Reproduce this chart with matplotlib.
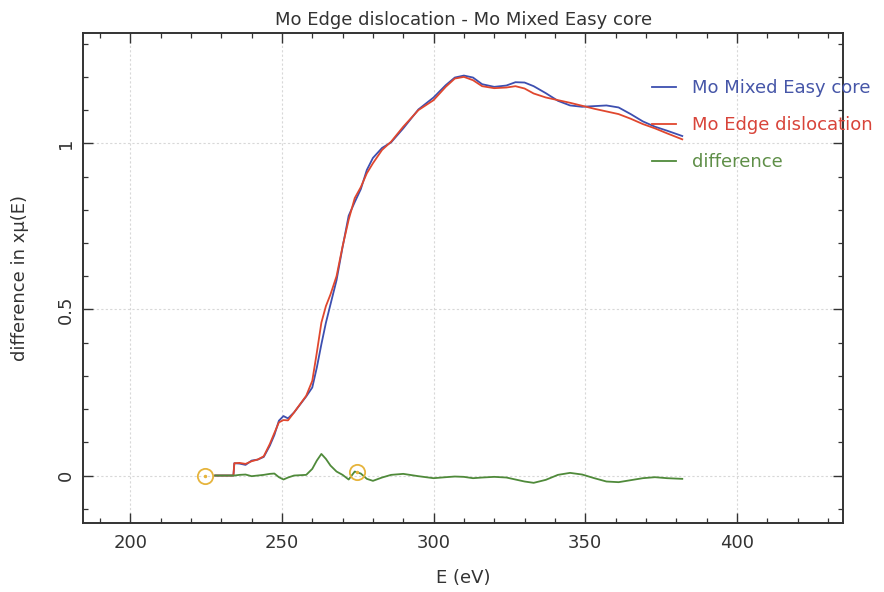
import matplotlib
matplotlib.use("Agg")
import matplotlib.pyplot as plt
from matplotlib.ticker import MultipleLocator

# Energy grid (eV)
energy = [228, 232, 234, 234.3, 236, 238, 240, 242, 244, 246, 247.5, 249, 250.5,
          252, 254, 256, 258, 260, 261.5, 263, 264.5, 266, 268, 270, 272, 274,
          276, 278, 280, 283, 286, 290, 295, 300, 304, 307, 310, 313, 316, 320,
          324, 327, 330, 333, 337, 341, 345, 349, 353, 357, 361, 365, 369, 373,
          377, 382]

# Mo Mixed Easy core, x*mu(E)
mixed_easy = [0, 0, 0, 0.037, 0.036, 0.032, 0.045, 0.048, 0.056, 0.090, 0.122,
              0.165, 0.179, 0.172, 0.190, 0.214, 0.238, 0.265, 0.325, 0.395,
              0.460, 0.515, 0.588, 0.688, 0.782, 0.823, 0.862, 0.920, 0.956,
              0.986, 1.003, 1.045, 1.102, 1.138, 1.175, 1.198, 1.204, 1.198,
              1.178, 1.170, 1.174, 1.184, 1.183, 1.172, 1.151, 1.128, 1.114,
              1.110, 1.112, 1.114, 1.108, 1.088, 1.066, 1.050, 1.038, 1.022]

# Mo Edge dislocation, x*mu(E)
edge_disl = [0, 0, 0, 0.037, 0.038, 0.035, 0.043, 0.048, 0.058, 0.095, 0.128,
             0.160, 0.167, 0.166, 0.190, 0.215, 0.240, 0.285, 0.370, 0.460,
             0.510, 0.545, 0.600, 0.690, 0.770, 0.835, 0.868, 0.910, 0.940,
             0.980, 1.005, 1.050, 1.100, 1.130, 1.170, 1.195, 1.200, 1.190,
             1.172, 1.166, 1.168, 1.172, 1.165, 1.150, 1.138, 1.130, 1.122,
             1.113, 1.104, 1.096, 1.088, 1.074, 1.058, 1.045, 1.030, 1.012]

# Edge - Mixed
difference = [0, 0, 0, 0, 0.002, 0.003, -0.002, 0, 0.002, 0.005, 0.006, -0.005,
              -0.012, -0.006, 0, 0.001, 0.002, 0.020, 0.045, 0.065, 0.050,
              0.030, 0.012, 0.002, -0.012, 0.012, 0.006, -0.010, -0.016, -0.006,
              0.002, 0.005, -0.002, -0.008, -0.005, -0.003, -0.004, -0.008,
              -0.006, -0.004, -0.006, -0.012, -0.018, -0.022, -0.013, 0.002,
              0.008, 0.003, -0.008, -0.018, -0.020, -0.014, -0.008, -0.005,
              -0.008, -0.010]

# Marked points
marker_energy = [224.5, 274.8]
marker_value = [0.0, 0.01]

series_labels = ["Mo Mixed Easy core", "Mo Edge dislocation", "difference"]
series_colors = ["#3d4fb0", "#e0472e", "#4f8a3a"]
label_colors = ["#4656a8", "#d8443a", "#5f8f48"]

title_text = "Mo Edge dislocation - Mo Mixed Easy core"
xlabel_text = "E (eV)"
ylabel_text = "difference in xμ(E)"

plt.rcParams["font.family"] = ["DejaVu Sans"]
fig = plt.figure(figsize=(8.84, 5.92), dpi=100)
W, H = 884, 592
left, right, top, bottom = 83.3, 843, 32.7, 522.7
ax = fig.add_axes([left / W, 1 - bottom / H, (right - left) / W, (bottom - top) / H])

ax.plot(energy, mixed_easy, color=series_colors[0], lw=1.3, label=series_labels[0])
ax.plot(energy, edge_disl, color=series_colors[1], lw=1.3, label=series_labels[1])
ax.plot(energy, difference, color=series_colors[2], lw=1.3, label=series_labels[2])

ax.plot(marker_energy, marker_value, 'o', ms=11, mfc='none', mec="#e6b43c", mew=1.3)
ax.plot(marker_energy, marker_value, '.', ms=3, color="#e6b43c")

ax.set_xlim(184.5, 435)
ax.set_ylim(-0.142, 1.333)

ax.xaxis.set_major_locator(MultipleLocator(50))
ax.xaxis.set_minor_locator(MultipleLocator(10))
ax.yaxis.set_major_locator(MultipleLocator(0.5))
ax.yaxis.set_minor_locator(MultipleLocator(0.1))
ax.yaxis.set_major_formatter(plt.FuncFormatter(lambda v, p: f"{v:g}"))

ax.tick_params(which="both", direction="in", top=True, right=True, color="#333333")
ax.tick_params(which="major", length=7, width=1.0, labelsize=13, labelcolor="#333333")
ax.tick_params(which="minor", length=3.5, width=0.9)
ax.tick_params(axis="x", pad=8)
ax.tick_params(axis="y", pad=6)
for lab in ax.get_yticklabels():
    lab.set_rotation(90)
    lab.set_va("center")

for s in ax.spines.values():
    s.set_color("#333333")
    s.set_linewidth(1.4)

ax.grid(True, which="major", color="#d8d8d8", linestyle=(0, (2, 2)), linewidth=0.8)

leg = ax.legend(loc="upper left", bbox_to_anchor=(0.7486, 0.905), frameon=False,
                fontsize=13, handlelength=1.35, handletextpad=0.85,
                labelspacing=1.05, borderpad=0, borderaxespad=0)
for txt, c in zip(leg.get_texts(), label_colors):
    txt.set_color(c)
leg.set_clip_on(False)

fig.text((left + right) / 2 / W, 1 - 20 / H, title_text, ha="center", va="center",
         fontsize=13, color="#333333")
fig.text((left + right) / 2 / W, 1 - 578 / H, xlabel_text, ha="center", va="center",
         fontsize=13, color="#333333")
fig.text(20 / W, 1 - (top + bottom) / 2 / H, ylabel_text, ha="center", va="center",
         rotation=90, fontsize=13, color="#333333")

fig.savefig("out.png", dpi=100)
